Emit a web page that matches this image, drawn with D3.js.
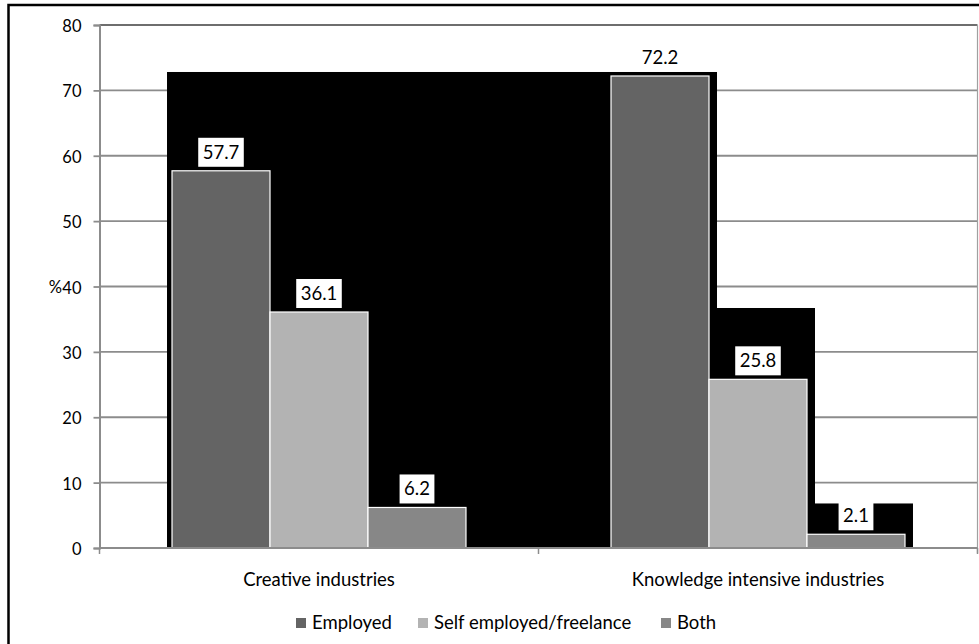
<!DOCTYPE html>
<html>
<head>
<meta charset="utf-8">
<script src="https://cdn.jsdelivr.net/npm/d3@7"></script>
<style>
  html, body { margin: 0; padding: 0; background: #fff; }
  text { font-family: Lato, "Open Sans", sans-serif; fill: #000; }
</style>
</head>
<body>
<div id="canvas"></div>
<script>
// chart data
const categories = ["Creative industries", "Knowledge intensive industries"];
const seriesNames = ["Employed", "Self employed/freelance", "Both"];
const employed = [57.7, 72.2];
const selfEmployed = [36.1, 25.8];
const both = [6.2, 2.1];
const yTicks = [0, 10, 20, 30, 40, 50, 60, 70, 80];
const yTitle = "%";

const colors = ["#646464", "#b3b3b3", "#878787"];
const seriesValues = [employed, selfEmployed, both];

const width = 979, height = 644;
const margin = { top: 25, right: 1, bottom: 96, left: 99.5 };

const svg = d3.select("#canvas")
    .append("svg")
    .attr("width", width)
    .attr("height", height);

// outer frame
svg.append("rect")
    .attr("x", 8.5).attr("y", 5)
    .attr("width", 1000).attr("height", 700)
    .attr("fill", "none")
    .attr("stroke", "#000")
    .attr("stroke-width", 2.5);

const x0 = d3.scaleBand()
    .domain(categories)
    .range([margin.left, width - margin.right - 0.5])
    .padding(0);

const x1 = d3.scaleBand()
    .domain(seriesNames)
    .range([0, x0.bandwidth()])
    .paddingInner(0)
    .paddingOuter(0.74);

const y = d3.scaleLinear()
    .domain([0, 80])
    .range([height - margin.bottom, margin.top]);

// gridlines
svg.append("g")
    .selectAll("line")
    .data(yTicks.filter(d => d > 0))
    .join("line")
    .attr("x1", margin.left)
    .attr("x2", x0.range()[1])
    .attr("y1", d => y(d))
    .attr("y2", d => y(d))
    .attr("stroke", d => d === 80 ? "#6e6e6e" : "#8c8c8c")
    .attr("stroke-width", 1.8);

// right border of plot area
svg.append("line")
    .attr("x1", x0.range()[1]).attr("x2", x0.range()[1])
    .attr("y1", y(80)).attr("y2", y(0) + 5)
    .attr("stroke", "#a0a0a0")
    .attr("stroke-width", 1.2);

// black block behind the bars (as in the source image)
const shadowData = seriesNames.map((s, i) => ({
    s,
    x0: x0(categories[0]) + x1(s) - 5,
    x1: x0(categories[1]) + x1(s) + x1.bandwidth() + 8,
    top: d3.max(seriesValues[i])
}));
svg.append("g")
    .selectAll("rect")
    .data(shadowData)
    .join("rect")
    .attr("x", d => d.x0)
    .attr("y", d => y(d.top) - 4)
    .attr("width", d => d.x1 - d.x0)
    .attr("height", d => y(0) - y(d.top) + 4)
    .attr("fill", "#000");

// bars
const barData = [];
categories.forEach((c, ci) => {
    seriesNames.forEach((s, si) => {
        barData.push({ c, s, si, value: seriesValues[si][ci] });
    });
});

svg.append("g")
    .selectAll("rect")
    .data(barData)
    .join("rect")
    .attr("x", d => x0(d.c) + x1(d.s))
    .attr("y", d => y(d.value))
    .attr("width", x1.bandwidth())
    .attr("height", d => y(0) - y(d.value))
    .attr("fill", d => colors[d.si])
    .attr("stroke", "#fff")
    .attr("stroke-width", 1.2);

// data labels with white boxes
const labels = svg.append("g")
    .selectAll("g")
    .data(barData)
    .join("g")
    .attr("transform", d => `translate(${x0(d.c) + x1(d.s) + x1.bandwidth() / 2},${y(d.value) - 4})`);

labels.append("rect").attr("fill", "#fff");
labels.append("text")
    .attr("text-anchor", "middle")
    .attr("y", -8)
    .attr("font-size", "18.5px")
    .text(d => d.value.toFixed(1));
labels.each(function() {
    const g = d3.select(this);
    const w = g.select("text").node().getComputedTextLength() + 9;
    g.select("rect")
        .attr("x", -w / 2).attr("y", -29)
        .attr("width", w).attr("height", 29);
});

// y axis
const yAxis = d3.axisLeft(y)
    .tickValues(yTicks)
    .tickSize(6)
    .tickPadding(12)
    .tickFormat(d3.format("d"));
const gy = svg.append("g")
    .attr("transform", `translate(${margin.left},0)`)
    .call(yAxis);
gy.select(".domain").attr("stroke", "#8c8c8c").attr("stroke-width", 2);
gy.selectAll(".tick line").attr("stroke", "#8c8c8c").attr("stroke-width", 1.8);
gy.selectAll(".tick text")
    .attr("font-family", "Lato, 'Open Sans', sans-serif")
    .attr("font-size", "16.5px")
    .attr("fill", "#000")
    .attr("dy", "0.4em");

// y title, sitting next to the middle tick label
svg.append("text")
    .attr("x", 62)
    .attr("y", y(40))
    .attr("dy", "0.4em")
    .attr("text-anchor", "end")
    .attr("font-size", "16.5px")
    .text(yTitle);

// x axis
svg.append("line")
    .attr("x1", margin.left).attr("x2", x0.range()[1])
    .attr("y1", y(0)).attr("y2", y(0))
    .attr("stroke", "#8c8c8c")
    .attr("stroke-width", 2);
svg.append("g")
    .selectAll("line")
    .data([x0.range()[0], x0(categories[1]), x0.range()[1]])
    .join("line")
    .attr("x1", d => d).attr("x2", d => d)
    .attr("y1", y(0)).attr("y2", y(0) + 6)
    .attr("stroke", "#8c8c8c")
    .attr("stroke-width", 1.5);

svg.append("g")
    .selectAll("text")
    .data(categories)
    .join("text")
    .attr("x", d => x0(d) + x0.bandwidth() / 2)
    .attr("y", y(0) + 38)
    .attr("text-anchor", "middle")
    .attr("font-size", "18.5px")
    .text(d => d);

// legend
const legendX = [296, 418, 661];
const legend = svg.append("g")
    .selectAll("g")
    .data(seriesNames)
    .join("g")
    .attr("transform", (d, i) => `translate(${legendX[i]},618)`);
legend.append("rect")
    .attr("width", 10).attr("height", 10)
    .attr("fill", (d, i) => colors[i]);
legend.append("text")
    .attr("x", 16)
    .attr("y", 11)
    .attr("font-size", "18.5px")
    .text(d => d);
</script>
</body>
</html>
